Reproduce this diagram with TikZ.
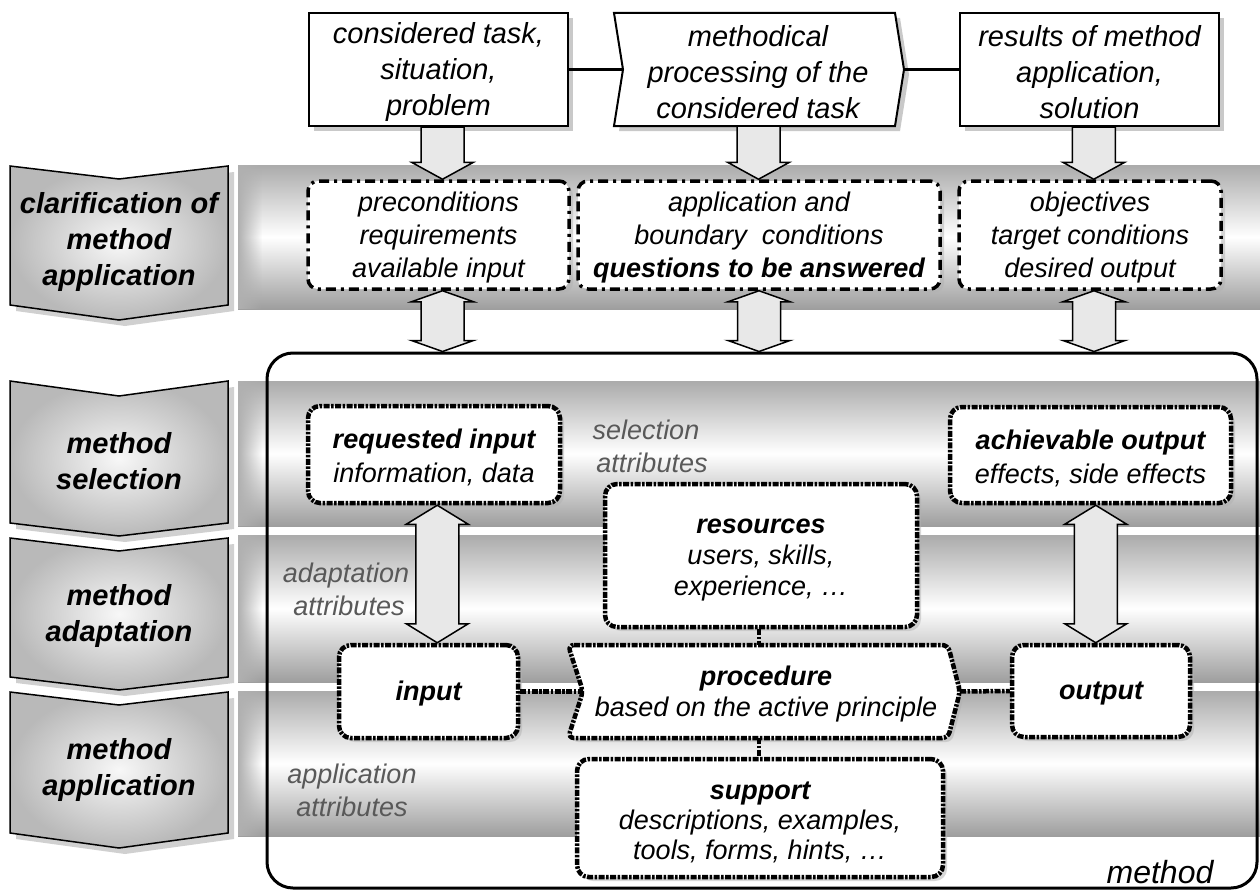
\documentclass[tikz,border=0pt]{standalone}
\usepackage{fontspec}
\setmainfont{Liberation Sans}
\usetikzlibrary{shadows,calc,fadings}
\tikzset{
  shadowA/.style={drop shadow={shadow xshift=5pt, shadow yshift=-5pt, fill=gray!70, opacity=0.6}},
  shadowB/.style={drop shadow={shadow xshift=4pt, shadow yshift=-4pt, fill=gray!60, opacity=0.5}},
  topshape/.style={draw, line width=2pt, fill=white, shadowA},
  toptext/.style={align=center, inner sep=0pt, font=\fontsize{29}{36}\selectfont\itshape},
  condbox/.style={draw, line width=3.5pt, dash pattern=on 10pt off 5pt on 3pt off 5pt, rounded corners=10pt, fill=white, shadowB, inner sep=0pt},
  condtext/.style={align=center, inner sep=0pt, font=\fontsize{27}{33}\selectfont\itshape},
  methshape/.style={draw, line width=4.5pt, dash pattern=on 6pt off 1.5pt on 2.5pt off 1.5pt, rounded corners=12pt, fill=white, shadowB, inner sep=0pt},
  methtext/.style={align=center, inner sep=0pt, font=\fontsize{27}{33}\selectfont\itshape},
  chev/.style={draw=black, line width=1.5pt, inner color=gray!6, outer color=gray!55,
               drop shadow={shadow xshift=6pt, shadow yshift=-6pt, fill=gray!60, opacity=0.6}},
  chevtext/.style={align=center, inner sep=0pt, font=\fontsize{29}{36}\selectfont\bfseries\itshape},
  attr/.style={align=center, inner sep=0pt, text=black!65, font=\fontsize{27}{33}\selectfont\itshape},
  barrow/.style={draw=black, line width=1.5pt, fill=gray!18, line join=miter},
  link/.style={line width=2.5pt},
  dotlink/.style={line width=4.5pt, dash pattern=on 6pt off 1.5pt on 2.5pt off 1.5pt},
  band/.style={top color=gray!66, bottom color=gray!76, middle color=white},
  bandedge/.style={fill=gray!62, path fading=east},
}
% block arrow pointing down: #1 start, #2 tip, #3 head length
\newcommand{\BArDown}[3]{%
  \path[barrow] let \p1=(#1), \p2=(#2) in
    (\x1*0.5+\x2*0.5-21.5pt,\y1) -- (\x1*0.5+\x2*0.5-21.5pt,\y2+#3) -- (\x1*0.5+\x2*0.5-31pt,\y2+#3)
    -- (\x1*0.5+\x2*0.5,\y2)
    -- (\x1*0.5+\x2*0.5+31pt,\y2+#3) -- (\x1*0.5+\x2*0.5+21.5pt,\y2+#3) -- (\x1*0.5+\x2*0.5+21.5pt,\y1) -- cycle;}
% double block arrow: #1 upper tip, #2 lower tip, #3 head length
\newcommand{\BArDouble}[3]{%
  \path[barrow] let \p1=(#1), \p2=(#2) in
    (\x1*0.5+\x2*0.5,\y1) -- (\x1*0.5+\x2*0.5+31pt,\y1-#3) -- (\x1*0.5+\x2*0.5+21.5pt,\y1-#3)
    -- (\x1*0.5+\x2*0.5+21.5pt,\y2+#3) -- (\x1*0.5+\x2*0.5+31pt,\y2+#3) -- (\x1*0.5+\x2*0.5,\y2)
    -- (\x1*0.5+\x2*0.5-31pt,\y2+#3) -- (\x1*0.5+\x2*0.5-21.5pt,\y2+#3)
    -- (\x1*0.5+\x2*0.5-21.5pt,\y1-#3) -- (\x1*0.5+\x2*0.5-31pt,\y1-#3) -- cycle;}
\begin{document}
\begin{tikzpicture}[x=1pt,y=-1pt]
\useasboundingbox (0,0) rectangle (1260,891);
\fill[white] (0,0) rectangle (1260,891);

% bands
\shade[band] (238,165) rectangle (1260,309);
\shade[band] (238,381) rectangle (1260,526);
\shade[band] (238,535) rectangle (1260,682);
\shade[band] (238,691) rectangle (1260,836);
\fill[bandedge] (238,165) rectangle (262,309);
\fill[bandedge] (238,381) rectangle (262,526);
\fill[bandedge] (238,535) rectangle (262,682);
\fill[bandedge] (238,691) rectangle (262,836);

% chevrons
\shadedraw[chev] (10,166) -- (119,179) -- (228,166) -- (228,305) -- (119,320) -- (10,305) -- cycle;
\shadedraw[chev] (10,381) -- (119,396) -- (228,381) -- (228,523) -- (119,536) -- (10,523) -- cycle;
\shadedraw[chev] (10,538) -- (119,551) -- (228,538) -- (228,677) -- (119,690) -- (10,677) -- cycle;
\shadedraw[chev] (10,692) -- (119,705) -- (228,692) -- (228,833) -- (119,848) -- (10,833) -- cycle;
\node[chevtext] (ch1) at (119,242) {clarification of\\method\\application};
\node[chevtext] (ch2) at (119,461) {method\\selection};
\node[chevtext] (ch3) at (119,616) {method\\adaptation};
\node[chevtext] (ch4) at (119,770) {method\\application};

% top row
\node[topshape, minimum width=259pt, minimum height=113pt, inner sep=0pt] (box1) at (438.5,69.5) {};
\node[toptext] (box1t) at ($(box1.center)+(0,3)$) {considered task,\\situation,\\problem};
\draw[topshape] (614,13) -- (895,13) -- (904,69.5) -- (895,126) -- (614,126) -- (623,69.5) -- cycle;
\node[toptext] (box2) at (758,72.5) {methodical\\processing of the\\considered task};
\coordinate (box2w) at (623,69.5);
\coordinate (box2e) at (904,69.5);
\coordinate (box2s) at (758,126);
\node[topshape, minimum width=259pt, minimum height=113pt, inner sep=0pt] (box3) at (1089.5,69.5) {};
\node[toptext] (box3t) at ($(box3.center)+(0,3)$) {results of method\\application,\\solution};
\draw[link] (box1.east) -- (box2w);
\draw[link] (box2e) -- (box3.west);

% clarification boxes
\node[condbox, minimum width=261pt, minimum height=108pt] (pre) at (438.5,235) {};
\node[condtext] (pret) at ($(pre.center)+(0,3)$) {preconditions\\requirements\\available input};
\node[condbox, minimum width=362pt, minimum height=108pt] (app) at (759,235) {};
\node[condtext] (appt) at ($(app.center)+(0,3)$) {application and\\boundary\ \ conditions\\\textbf{questions to be answered}};
\node[condbox, minimum width=262pt, minimum height=108pt] (obj) at (1090,235) {};
\node[condtext] (objt) at ($(obj.center)+(0,3)$) {objectives\\target conditions\\desired output};

\BArDown{$(box1.south)+(4,0)$}{$(pre.north)+(4,0)$}{17pt}
\BArDown{box2s}{app.north}{17pt}
\BArDown{$(box3.south)+(4,0)$}{$(obj.north)+(4,0)$}{17pt}

% method frame
\node[draw, line width=3pt, rounded corners=26pt, minimum width=990pt, minimum height=535pt, inner sep=0pt] (method) at (762,620.5) {};
\node[font=\fontsize{32}{38}\selectfont\itshape, anchor=base, inner sep=0pt] (methlabel) at (1160,883) {method};

\BArDouble{$(pre.south)+(4,0)$}{$(pre.south |- method.north)+(4,0)$}{11pt}
\BArDouble{app.south}{app.south |- method.north}{11pt}
\BArDouble{$(obj.south)+(4,0)$}{$(obj.south |- method.north)+(4,0)$}{11pt}

% attribute labels
\node[attr] (selattr) at (646,446) {selection\\\hspace*{12pt}attributes};
\node[attr] (adaattr) at (346,589) {adaptation\\\hspace*{6pt}attributes};
\node[attr] (appattr) at (352,790) {application\\attributes};

% method boxes
\node[methshape, minimum width=252pt, minimum height=97pt] (req) at (434,454.5) {};
\node[methtext, font=\fontsize{27}{34}\selectfont\itshape] (reqt) at ($(req.center)+(0,3)$) {\textbf{requested input}\\information, data};
\node[methshape, minimum width=281pt, minimum height=96pt] (ach) at (1090.5,455) {};
\node[methtext, font=\fontsize{27}{34}\selectfont\itshape] (acht) at ($(ach.center)+(0,3)$) {\textbf{achievable output}\\effects, side effects};
\node[methshape, minimum width=312pt, minimum height=143pt] (res) at (761,555.5) {};
\node[methtext, font=\fontsize{27}{31}\selectfont\itshape] (rest) at ($(res.center)+(0,5)$) {\textbf{resources}\\users, skills,\\experience, …};
\node[methshape, minimum width=179pt, minimum height=93pt] (inp) at (428.5,691.5) {};
\node[methtext] (inpt) at ($(inp.center)+(0,2)$) {\textbf{input}};
\draw[methshape, rounded corners=6pt] (568,645) -- (948,645) -- (960,691.5) -- (948,738) -- (568,738) -- (583,691.5) -- cycle;
\node[methtext, font=\fontsize{27}{31}\selectfont\itshape] (proc) at (766,694.5) {\textbf{procedure}\\based on the active principle};
\coordinate (procw) at (583,691.5);
\coordinate (proce) at (960,691.5);
\coordinate (procn) at (759,645);
\coordinate (procs) at (759,738);
\node[methshape, minimum width=178pt, minimum height=92pt] (outp) at (1101,691) {};
\node[methtext] (outpt) at ($(outp.center)+(0,2)$) {\textbf{output}};
\node[methshape, minimum width=366pt, minimum height=118pt] (sup) at (760,818) {};
\node[methtext, font=\fontsize{27}{30}\selectfont\itshape] (supt) at ($(sup.center)+(0,4)$) {\textbf{support}\\descriptions, examples,\\tools, forms, hints, …};

% dotted links
\draw[dotlink] (inp.east) -- (procw);
\draw[dotlink] (proce) -- (outp.west);
\draw[dotlink] (res.south -| procn) -- (procn);
\draw[dotlink] (procs) -- (sup.north -| procs);

% arrows inside method
\BArDouble{$(req.south)+(6,0)$}{$(inp.north)+(6,0)$}{19pt}
\BArDouble{ach.south}{outp.north}{19pt}
\end{tikzpicture}
\end{document}
